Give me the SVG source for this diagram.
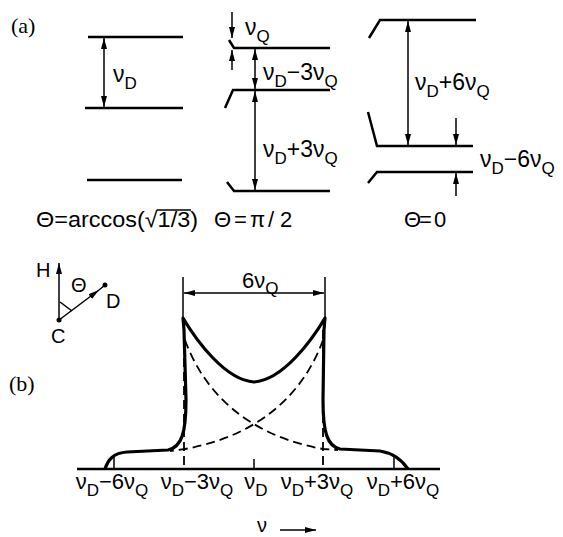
<svg xmlns="http://www.w3.org/2000/svg" width="563" height="537" viewBox="0 0 563 537">
<defs>
<marker id="ah" markerUnits="userSpaceOnUse" markerWidth="11" markerHeight="6" refX="11" refY="3" orient="auto-start-reverse">
<path d="M0,0 L11,3 L0,6 z" fill="#000"/>
</marker>
<style>
.lv{stroke:#000;stroke-width:2.5;fill:none;stroke-linecap:butt}
.ar{stroke:#000;stroke-width:1.5;fill:none;marker-start:url(#ah);marker-end:url(#ah)}
.a1{stroke:#000;stroke-width:1.5;fill:none;marker-end:url(#ah)}
.t{font-family:"Liberation Sans",Arial,sans-serif;font-size:22px;fill:#000}
.b{font-size:23px}
.s{font-size:17px}
.p{font-family:"Liberation Serif","Times New Roman",serif;font-size:22px;fill:#000}
.th{stroke:#000;stroke-width:3.2;fill:none;stroke-linejoin:round}
.ds{stroke:#000;stroke-width:1.8;fill:none;stroke-dasharray:9 5}
.tk{stroke:#000;stroke-width:1.5;fill:none}
.c{font-size:20px}
</style>
</defs>

<g id="label-a"><text class="p" x="11" y="33">(a)</text></g>
<g id="label-b"><text class="p" x="9" y="391">(b)</text></g>

<g id="col1">
<line class="lv" x1="88" y1="37" x2="183" y2="37"/>
<line class="lv" x1="85" y1="108" x2="183" y2="108"/>
<line class="lv" x1="87" y1="180" x2="182" y2="180"/>
<text class="t b" x="113" y="82">ν<tspan class="s" dy="7">D</tspan></text>
<text class="t" x="36" y="227" textLength="162" lengthAdjust="spacingAndGlyphs">Θ=arccos(√1/3)</text>
<line class="tk" x1="157" y1="210" x2="191" y2="210"/>
</g>

<g id="col2">
<path class="lv" d="M229,40 L234,48 L330,48"/>
<path class="lv" d="M225,108 L233,90 L330,90"/>
<path class="lv" d="M227,182 L234,191 L330,191"/>
<text class="t b" x="245" y="35">ν<tspan class="s" dy="7">Q</tspan></text>
<text class="t b" x="263" y="80">ν<tspan class="s" dy="7">D</tspan><tspan dy="-7">−3ν</tspan><tspan class="s" dy="7">Q</tspan></text>
<text class="t b" x="263" y="157">ν<tspan class="s" dy="7">D</tspan><tspan dy="-7">+3ν</tspan><tspan class="s" dy="7">Q</tspan></text>
<text class="t" x="214 234 250 268 280" y="227">Θ=π/2</text>
</g>

<g id="col3">
<path class="lv" d="M369,38 L380,20 L476,20"/>
<path class="lv" d="M368,112 L377,146 L473,146"/>
<path class="lv" d="M368,183 L377,172 L473,172"/>
<text class="t b" x="415" y="90">ν<tspan class="s" dy="7">D</tspan><tspan dy="-7">+6ν</tspan><tspan class="s" dy="7">Q</tspan></text>
<text class="t b" x="480" y="167">ν<tspan class="s" dy="7">D</tspan><tspan dy="-7">−6ν</tspan><tspan class="s" dy="7">Q</tspan></text>
<text class="t" x="404 419 434" y="227">Θ=0</text>
</g>

<g id="axes-ref">
<line class="a1" x1="59" y1="320" x2="59" y2="263"/>
<line class="a1" x1="59" y1="320" x2="99" y2="290"/>
<line class="tk" x1="99" y1="290" x2="105" y2="285"/>
<line class="tk" x1="60" y1="302" x2="72" y2="311"/>
<circle cx="59" cy="320" r="2.5" fill="#000"/>
<circle cx="105" cy="285" r="2.5" fill="#000"/>
<text class="t c" x="36" y="277">H</text>
<text class="t c" x="71" y="292">Θ</text>
<text class="t c" x="106" y="308">D</text>
<text class="t c" x="51" y="343">C</text>
</g>

<g id="connectors">
<line class="ar" x1="104" y1="38" x2="104" y2="107"/>
<line class="ar" x1="255" y1="49" x2="255" y2="89"/>
<line class="ar" x1="255" y1="91" x2="255" y2="190"/>
<line class="a1" x1="232" y1="12" x2="232" y2="38"/>
<line class="a1" x1="232" y1="70" x2="232" y2="50"/>
<line class="ar" x1="408" y1="21" x2="408" y2="145"/>
<line class="a1" x1="456" y1="118" x2="456" y2="145"/>
<line class="a1" x1="456" y1="196" x2="456" y2="173"/>
</g>

<g id="spectrum">
<line class="tk" x1="183" y1="277" x2="183" y2="320"/>
<line class="tk" x1="325" y1="277" x2="325" y2="320"/>
<line class="ar" x1="184" y1="293" x2="324" y2="293"/>
<text class="t" x="242" y="288">6ν<tspan class="s" dy="6">Q</tspan></text>
<line stroke="#000" stroke-width="2.5" x1="77" y1="469" x2="440" y2="469"/>
<line class="tk" x1="114" y1="457" x2="114" y2="469"/>
<line class="tk" x1="254" y1="459" x2="254" y2="469"/>
<line class="tk" x1="394" y1="457" x2="394" y2="469"/>
<line class="ds" x1="184" y1="330" x2="184" y2="469"/>
<line class="ds" x1="323" y1="330" x2="323" y2="469"/>
<path class="ds" d="M185,340 C203,390 245,435 323,449 L338,450"/>
<path class="ds" d="M323,340 C305,390 263,435 185,449 L170,451"/>
<path class="th" d="M105,469 C108,460 113,453 127,452 L168,450 C182,447 186,432 186,400 L184,330 L183,318 C196,340 225,380 254,382 C283,380 312,340 325,318 L324,330 L323,400 C323,432 327,446 340,449 L380,451 C392,453 402,460 408,469"/>
<text class="t" x="112" y="489" text-anchor="middle">ν<tspan class="s" dy="7">D</tspan><tspan dy="-7">−6ν</tspan><tspan class="s" dy="7">Q</tspan></text>
<text class="t" x="197" y="489" text-anchor="middle">ν<tspan class="s" dy="7">D</tspan><tspan dy="-7">−3ν</tspan><tspan class="s" dy="7">Q</tspan></text>
<text class="t" x="256" y="489" text-anchor="middle">ν<tspan class="s" dy="7">D</tspan></text>
<text class="t" x="317" y="489" text-anchor="middle">ν<tspan class="s" dy="7">D</tspan><tspan dy="-7">+3ν</tspan><tspan class="s" dy="7">Q</tspan></text>
<text class="t" x="403" y="489" text-anchor="middle">ν<tspan class="s" dy="7">D</tspan><tspan dy="-7">+6ν</tspan><tspan class="s" dy="7">Q</tspan></text>
<text class="t c" x="257" y="532">ν</text>
<line class="a1" x1="280" y1="530" x2="316" y2="530"/>
</g>
</svg>
